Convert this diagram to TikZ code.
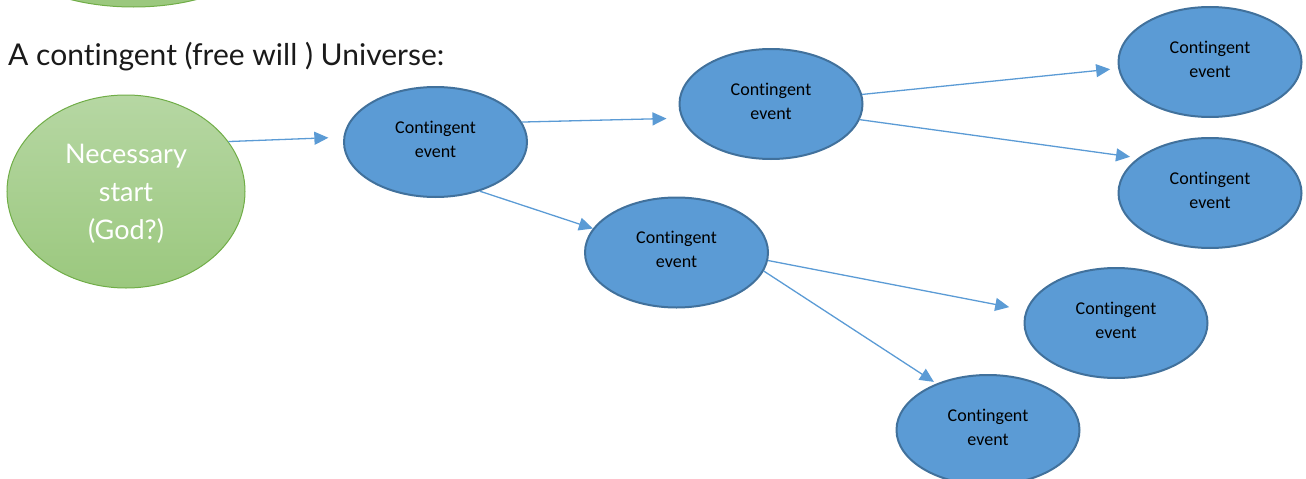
\documentclass[tikz,border=0pt]{standalone}
\usepackage{fontspec}
\setmainfont[Ligatures=NoCommon]{Carlito}
\newfontfamily\headfont[Ligatures=NoCommon]{Lato}
\usetikzlibrary{shapes.geometric,arrows.meta}
\definecolor{evfill}{HTML}{5B9BD5}
\definecolor{evline}{HTML}{41719C}
\definecolor{linkblue}{HTML}{5B9BD5}
\definecolor{greentop}{HTML}{B6D7A3}
\definecolor{greenbot}{HTML}{9BC87E}
\definecolor{greenline}{HTML}{70AD47}
\definecolor{titlegray}{HTML}{1A1A1A}
\begin{document}
\begin{tikzpicture}[x=1pt,y=-1pt,
  evtext/.style={align=center, text=black, inner sep=0pt, yshift=3pt,
    font=\fontsize{18}{24}\selectfont},
  event/.style={ellipse, draw=evline, line width=2pt, fill=evfill,
    inner sep=0pt, minimum width=183pt, minimum height=110pt,
    label={[evtext]center:#1}},
  origin/.style={ellipse, draw=greenline, line width=1pt,
    top color=greentop, bottom color=greenbot, inner sep=0pt},
  origintext/.style={align=center, text=white, inner sep=0pt, yshift=-2pt,
    font=\headfont\fontsize{27}{38}\selectfont},
  link/.style={draw=linkblue, line width=1.3pt,
    -{Triangle[length=14pt,width=13pt]}},
]
\useasboundingbox (0,0) rectangle (1306,479);
\clip (0,0) rectangle (1306,479);

% partly visible shape at the top edge
\node[origin, minimum width=260pt, minimum height=120pt,
  top color=greenbot!80!greentop, bottom color=greenbot] (prev) at (133.5,-53) {};

% heading
\node[anchor=base west, inner sep=0pt, text=titlegray,
  font=\headfont\fontsize{30}{36}\selectfont] (title) at (8,65)
  {A contingent (free will ) Universe:};

% starting point
\node[origin, minimum width=238pt, minimum height=193pt,
  label={[origintext]center:Necessary\\start\\(God?)}] (g) at (126,191.5) {};

% branching events
\node[event={Contingent\\event}] (e1) at (435.5,142)   {};
\node[event={Contingent\\event}] (e2) at (771,104)     {};
\node[event={Contingent\\event}] (e3) at (1210,62)     {};
\node[event={Contingent\\event}] (e4) at (1210,193)    {};
\node[event={Contingent\\event}] (e5) at (676.5,252.5) {};
\node[event={Contingent\\event}] (e6) at (1116,323)    {};
\node[event={Contingent\\event}] (e7) at (988,430)     {};

% connections
\draw[link, shorten >=15pt] (g.26)   -- (e1.177);
\draw[link, shorten >=15pt] (e1.13)  -- (e2.189);
\draw[link]                 (e1.-48) -- (e5.164);
\draw[link, shorten >=8pt]  (e2.6)   -- (e3.184.5);
\draw[link, shorten >=8pt]  (e2.-10) -- (e4.154);
\draw[link, shorten >=17pt] (e5.-5)  -- (e6.172);
\draw[link, shorten >=3pt]  (e5.-12) -- (e7.138);
\end{tikzpicture}
\end{document}
